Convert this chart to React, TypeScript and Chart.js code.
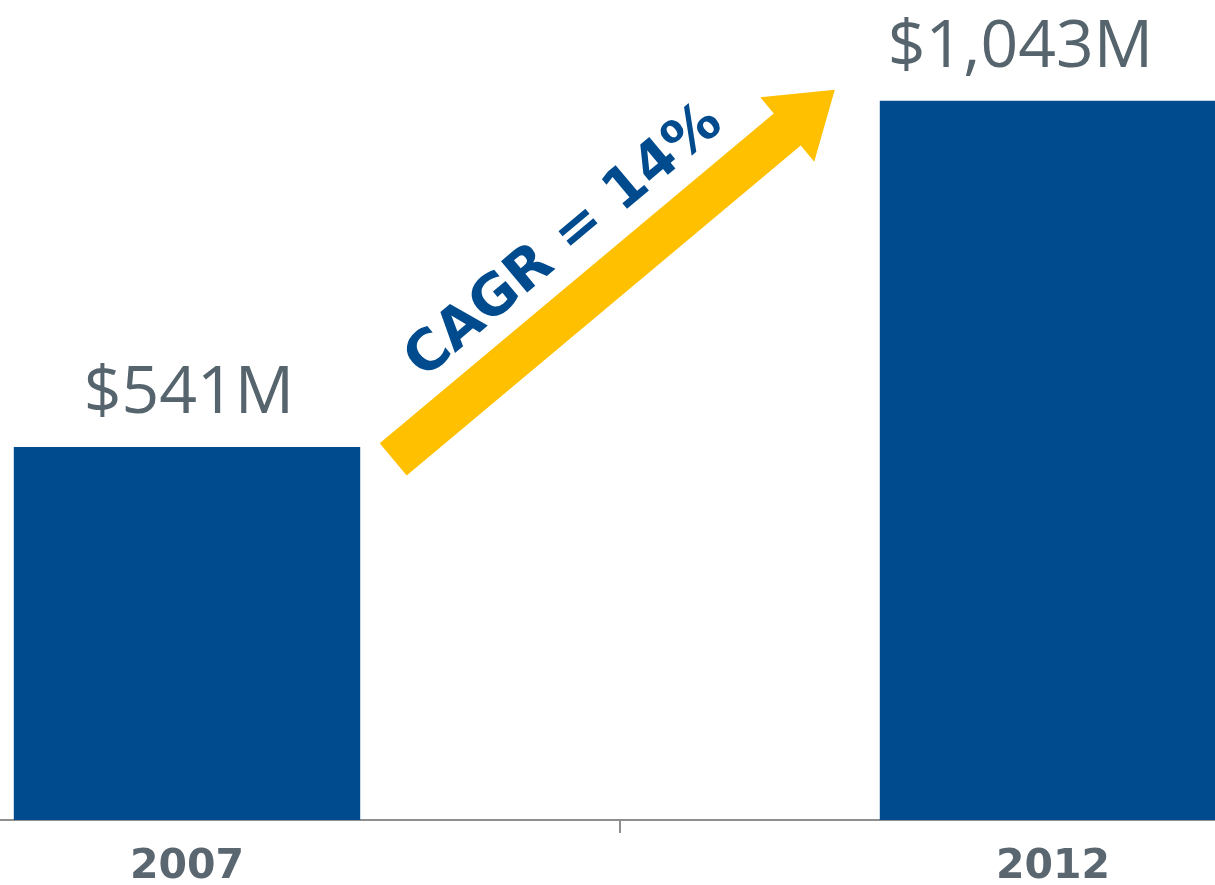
import React, { useEffect, useRef } from "react";
import { Chart, registerables } from "chart.js";

Chart.register(...registerables);

// ---- data ----
const categories = ["2007", "2012"];
const revenue = [541, 1043];
const valueLabels = ["$541M", "$1,043M"];
const cagrLabel = "CAGR = 14%";
const yMax = 1189;

// ---- view / styling ----
const VIEW_W = 1215;
const VIEW_H = 885;
const VIEW_LEFT = 246; // visible part starts this far into the canvas
const CANVAS_W = 1732;
const BAR_COLOR = "#004B8D";
const ARROW_COLOR = "#FFC000";
const AXIS_COLOR = "#8f8f8f";
const VALUE_COLOR = "#56646d";
const CAT_COLOR = "#5a6670";

const overlay = {
  id: "overlay",
  afterDatasetsDraw(chart: any) {
    const ctx = chart.ctx as CanvasRenderingContext2D;
    const meta = chart.getDatasetMeta(0);
    const xs = chart.scales.x;
    const area = chart.chartArea;
    ctx.save();

    // value labels above bars
    ctx.font = "66px 'Open Sans'";
    ctx.fillStyle = VALUE_COLOR;
    ctx.textAlign = "center";
    ctx.textBaseline = "alphabetic";
    meta.data.forEach((bar: any, i: number) => {
      const w = ctx.measureText(valueLabels[i]).width;
      const x = Math.min(bar.x + 2, VIEW_LEFT + VIEW_W - 62 - w / 2);
      ctx.fillText(valueLabels[i], x, bar.y - 34);
    });

    // category labels
    ctx.font = "bold 41px 'DejaVu Sans'";
    ctx.fillStyle = CAT_COLOR;
    categories.forEach((c, i) => {
      ctx.fillText(c, xs.getPixelForValue(i), area.bottom + 58);
    });

    // CAGR arrow between bars
    const b1 = meta.data[0];
    const b2 = meta.data[1];
    const sx = b1.x + b1.width / 2 + 33;
    const sy = b1.y + 12.5;
    const tx = b2.x - b2.width / 2 - 45;
    const ty = b2.y - 11;
    const dx = tx - sx;
    const dy = ty - sy;
    const len = Math.hypot(dx, dy);
    const ux = dx / len;
    const uy = dy / len;
    const nx = -uy; // normal (down-right)
    const ny = ux;
    const shaft = 21;
    const headLen = 62;
    const headHalf = 42;
    const bx = tx - ux * headLen;
    const by = ty - uy * headLen;
    ctx.beginPath();
    ctx.moveTo(sx - nx * shaft, sy - ny * shaft);
    ctx.lineTo(bx - nx * shaft, by - ny * shaft);
    ctx.lineTo(bx - nx * headHalf, by - ny * headHalf);
    ctx.lineTo(tx, ty);
    ctx.lineTo(bx + nx * headHalf, by + ny * headHalf);
    ctx.lineTo(bx + nx * shaft, by + ny * shaft);
    ctx.lineTo(sx + nx * shaft, sy + ny * shaft);
    ctx.closePath();
    ctx.fillStyle = ARROW_COLOR;
    ctx.fill();

    // CAGR text along arrow
    const angle = Math.atan2(dy, dx);
    const mx = sx + ux * (len / 2 - 17);
    const my = sy + uy * (len / 2 - 17);
    ctx.translate(mx, my);
    ctx.rotate(angle);
    ctx.font = "bold 56px 'DejaVu Sans'";
    ctx.fillStyle = BAR_COLOR;
    ctx.textAlign = "center";
    ctx.textBaseline = "alphabetic";
    ctx.fillText(cagrLabel, 0, -42);

    ctx.restore();
  },
};

export default function App() {
  const ref = useRef<HTMLCanvasElement | null>(null);

  useEffect(() => {
    if (!ref.current) return;
    const chart = new Chart(ref.current, {
      type: "bar",
      data: {
        labels: categories,
        datasets: [
          {
            data: revenue,
            backgroundColor: BAR_COLOR,
            borderWidth: 0,
            barPercentage: 0.4,
            categoryPercentage: 1,
          },
        ],
      },
      options: {
        animation: false,
        responsive: true,
        maintainAspectRatio: false,
        layout: { padding: 0 },
        plugins: {
          legend: { display: false },
          tooltip: { enabled: false },
          title: { display: false },
        },
        scales: {
          x: {
            grid: {
              display: true,
              drawOnChartArea: false,
              drawTicks: true,
              tickLength: 13,
              color: AXIS_COLOR,
              lineWidth: 2,
              offset: true,
            },
            border: { display: true, color: AXIS_COLOR, width: 2 },
            ticks: { display: false },
            afterFit: (s: any) => {
              s.height = 65;
            },
          },
          y: { display: false, min: 0, max: yMax },
        },
      } as any,
      plugins: [overlay],
    });
    return () => chart.destroy();
  }, []);

  return (
    <div
      style={{
        position: "fixed",
        left: 0,
        top: 0,
        width: VIEW_W,
        height: VIEW_H,
        overflow: "hidden",
        background: "#ffffff",
      }}
    >
      <div
        style={{
          position: "absolute",
          left: -VIEW_LEFT,
          top: 0,
          width: CANVAS_W,
          height: VIEW_H,
        }}
      >
        <canvas ref={ref} />
      </div>
    </div>
  );
}
